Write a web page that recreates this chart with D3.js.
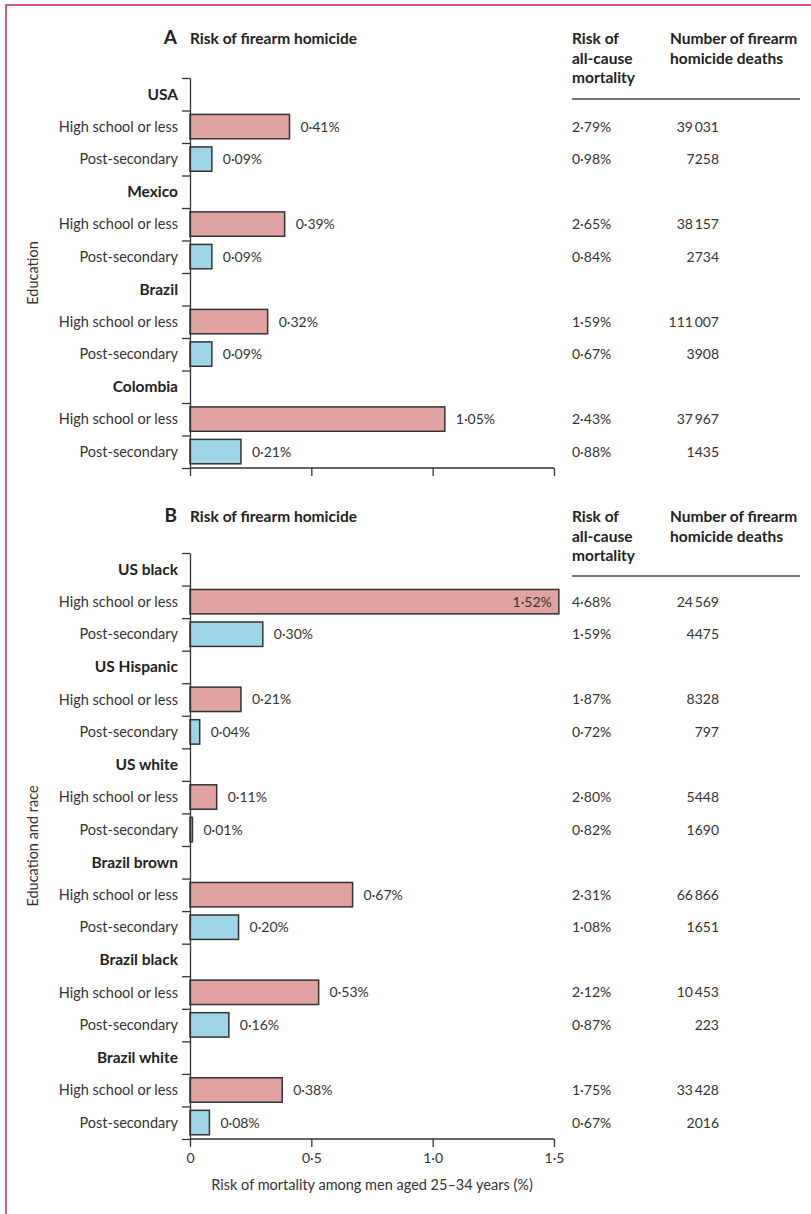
<!DOCTYPE html>
<html>
<head>
<meta charset="utf-8">
<script src="https://cdn.jsdelivr.net/npm/d3@7"></script>
<style>
  body { margin: 0; background: #fff; }
  svg { display: block; font-family: Lato, "Open Sans", sans-serif; }
  .lbl { font-size: 14.5px; fill: #333; }
  .grp { font-size: 15.5px; font-weight: bold; fill: #222; }
  .val { font-size: 14px; fill: #333; }
  .hdr { font-size: 15.5px; font-weight: bold; fill: #222; }
</style>
</head>
<body>
<div id="container"></div>
<script>
const width = 811;
const height = 1214;
const axisX0 = 190; // left edge of the bars
const axisX1 = 554; // x of 1.5
const col1X = 572;  // all-cause column (left aligned)
const col2X = 719;  // deaths column (right aligned)

// Panel A: by education
const groupsA = ["USA", "Mexico", "Brazil", "Colombia"];
const riskHsA = [0.41, 0.39, 0.32, 1.05];
const riskPsA = [0.09, 0.09, 0.09, 0.21];
const allCauseHsA = [2.79, 2.65, 1.59, 2.43];
const allCausePsA = [0.98, 0.84, 0.67, 0.88];
const deathsHsA = [39031, 38157, 111007, 37967];
const deathsPsA = [7258, 2734, 3908, 1435];

// Panel B: by education and race
const groupsB = ["US black", "US Hispanic", "US white", "Brazil brown", "Brazil black", "Brazil white"];
const riskHsB = [1.52, 0.21, 0.11, 0.67, 0.53, 0.38];
const riskPsB = [0.30, 0.04, 0.01, 0.20, 0.16, 0.08];
const allCauseHsB = [4.68, 1.87, 2.80, 2.31, 2.12, 1.75];
const allCausePsB = [1.59, 0.72, 0.82, 1.08, 0.87, 0.67];
const deathsHsB = [24569, 8328, 5448, 66866, 10453, 33428];
const deathsPsB = [4475, 797, 1690, 1651, 223, 2016];

const levels = ["High school or less", "Post-secondary"];
const xTicks = [0, 0.5, 1, 1.5];

const locale = d3.formatLocale({ decimal: "·", thousands: "\u2009", grouping: [3], currency: ["", ""] });
const pct = v => locale.format(".2f")(v) + "%";
const num = v => v >= 10000 ? locale.format(",")(v) : String(v);

const color = d3.scaleOrdinal().domain(levels).range(["#e0a3a2", "#9fd5e8"]);

const x = d3.scaleLinear().domain([0, 1.5]).range([axisX0, axisX1]);

const svg = d3.select("#container").append("svg")
  .attr("width", width)
  .attr("height", height)
  .attr("viewBox", [0, 0, width, height]);

// journal frame
svg.append("path")
  .attr("d", `M${width},5H6V${height}`)
  .attr("fill", "none")
  .attr("stroke", "#c8294f")
  .attr("stroke-width", 1.5);

function buildRows(groups, hs, ps, acHs, acPs, dHs, dPs) {
  const rows = [];
  groups.forEach((g, i) => {
    rows.push({ type: "group", label: g });
    rows.push({ type: "bar", label: levels[0], level: levels[0], risk: hs[i], allCause: acHs[i], deaths: dHs[i] });
    rows.push({ type: "bar", label: levels[1], level: levels[1], risk: ps[i], allCause: acPs[i], deaths: dPs[i] });
  });
  return rows;
}

function panel(opts) {
  const rows = opts.rows;
  const g = svg.append("g");

  // row index -> y
  const yi = d3.scaleLinear().domain([0, rows.length]).range([opts.top, opts.bottom]);
  const bw = yi(1) - yi(0);

  // titles
  g.append("text")
    .attr("x", 177).attr("y", opts.titleY)
    .attr("text-anchor", "end")
    .attr("font-size", 19).attr("font-weight", "bold").attr("fill", "#222")
    .text(opts.letter);
  g.append("text")
    .attr("x", 190).attr("y", opts.titleY)
    .attr("class", "hdr")
    .text("Risk of firearm homicide");

  ["Risk of", "all-cause", "mortality"].forEach((t, i) => {
    g.append("text").attr("class", "hdr")
      .attr("x", col1X).attr("y", opts.titleY + i * 19.5).text(t);
  });
  ["Number of firearm", "homicide deaths"].forEach((t, i) => {
    g.append("text").attr("class", "hdr")
      .attr("x", 670).attr("y", opts.titleY + i * 19.5).text(t);
  });
  g.append("line")
    .attr("x1", col1X).attr("x2", 800)
    .attr("y1", opts.ruleY).attr("y2", opts.ruleY)
    .attr("stroke", "#444").attr("stroke-width", 1.5);

  // bars
  const barRows = rows.map((d, i) => ({ ...d, i })).filter(d => d.type === "bar");
  g.append("g")
    .selectAll("rect")
    .data(barRows)
    .join("rect")
    .attr("x", x(0))
    .attr("y", d => yi(d.i) + bw * 0.12)
    .attr("width", d => x(d.risk) - x(0))
    .attr("height", bw * 0.75)
    .attr("fill", d => color(d.level))
    .attr("stroke", "#333")
    .attr("stroke-width", 1.5);

  // bar value labels
  g.append("g")
    .selectAll("text")
    .data(barRows)
    .join("text")
    .attr("class", "val")
    .attr("x", d => d.risk > 1.5 ? x(d.risk) - 7 : x(d.risk) + 11)
    .attr("y", d => yi(d.i + 0.5))
    .attr("dy", "0.35em")
    .attr("text-anchor", d => d.risk > 1.5 ? "end" : "start")
    .text(d => pct(d.risk));

  // row labels
  g.append("g")
    .selectAll("text")
    .data(rows.map((d, i) => ({ ...d, i })))
    .join("text")
    .attr("class", d => d.type === "group" ? "grp" : "lbl")
    .attr("x", 178)
    .attr("y", d => yi(d.i + 0.5))
    .attr("dy", "0.35em")
    .attr("text-anchor", "end")
    .text(d => d.label);

  // table columns
  g.append("g")
    .selectAll("text")
    .data(barRows)
    .join("text")
    .attr("class", "val")
    .attr("x", col1X)
    .attr("y", d => yi(d.i + 0.5))
    .attr("dy", "0.35em")
    .text(d => pct(d.allCause));
  g.append("g")
    .selectAll("text")
    .data(barRows)
    .join("text")
    .attr("class", "val")
    .attr("x", col2X)
    .attr("y", d => yi(d.i + 0.5))
    .attr("dy", "0.35em")
    .attr("text-anchor", "end")
    .text(d => num(d.deaths));

  // y axis: ticks at every row boundary
  g.append("g")
    .attr("transform", `translate(${axisX0},0)`)
    .call(d3.axisLeft(yi).tickValues(d3.range(rows.length + 1)).tickSize(8).tickSizeOuter(0).tickFormat(""))
    .call(a => a.selectAll("line,path").attr("stroke", "#333").attr("stroke-width", 1.3));

  // x axis
  const xa = g.append("g")
    .attr("transform", `translate(0,${opts.bottom})`)
    .call(d3.axisBottom(x).tickValues(xTicks).tickSize(8).tickSizeOuter(8)
      .tickFormat(opts.tickLabels ? (d => d === 0 ? "0" : locale.format(".1f")(d)) : ""))
    .call(a => a.selectAll("line,path").attr("stroke", "#333").attr("stroke-width", 1.3))
    .call(a => a.selectAll("text").attr("font-size", 14).attr("fill", "#333")
      .attr("font-family", "Lato, sans-serif").attr("dy", "0.9em"));
  xa.select(".domain").attr("d", `M${axisX0},0H${axisX1}`);

  // y axis title
  g.append("text")
    .attr("class", "lbl")
    .attr("transform", `translate(38,${(opts.top + opts.bottom) / 2}) rotate(-90)`)
    .attr("text-anchor", "middle")
    .text(opts.yTitle);
}

panel({
  letter: "A", titleY: 44, ruleY: 99, top: 78, bottom: 468,
  rows: buildRows(groupsA, riskHsA, riskPsA, allCauseHsA, allCausePsA, deathsHsA, deathsPsA),
  yTitle: "Education", tickLabels: false
});

panel({
  letter: "B", titleY: 522, ruleY: 576, top: 553, bottom: 1139,
  rows: buildRows(groupsB, riskHsB, riskPsB, allCauseHsB, allCausePsB, deathsHsB, deathsPsB),
  yTitle: "Education and race", tickLabels: true
});

svg.append("text")
  .attr("class", "lbl")
  .attr("x", x(0.75)).attr("y", 1190)
  .attr("text-anchor", "middle")
  .text("Risk of mortality among men aged 25–34 years (%)");
</script>
</body>
</html>
